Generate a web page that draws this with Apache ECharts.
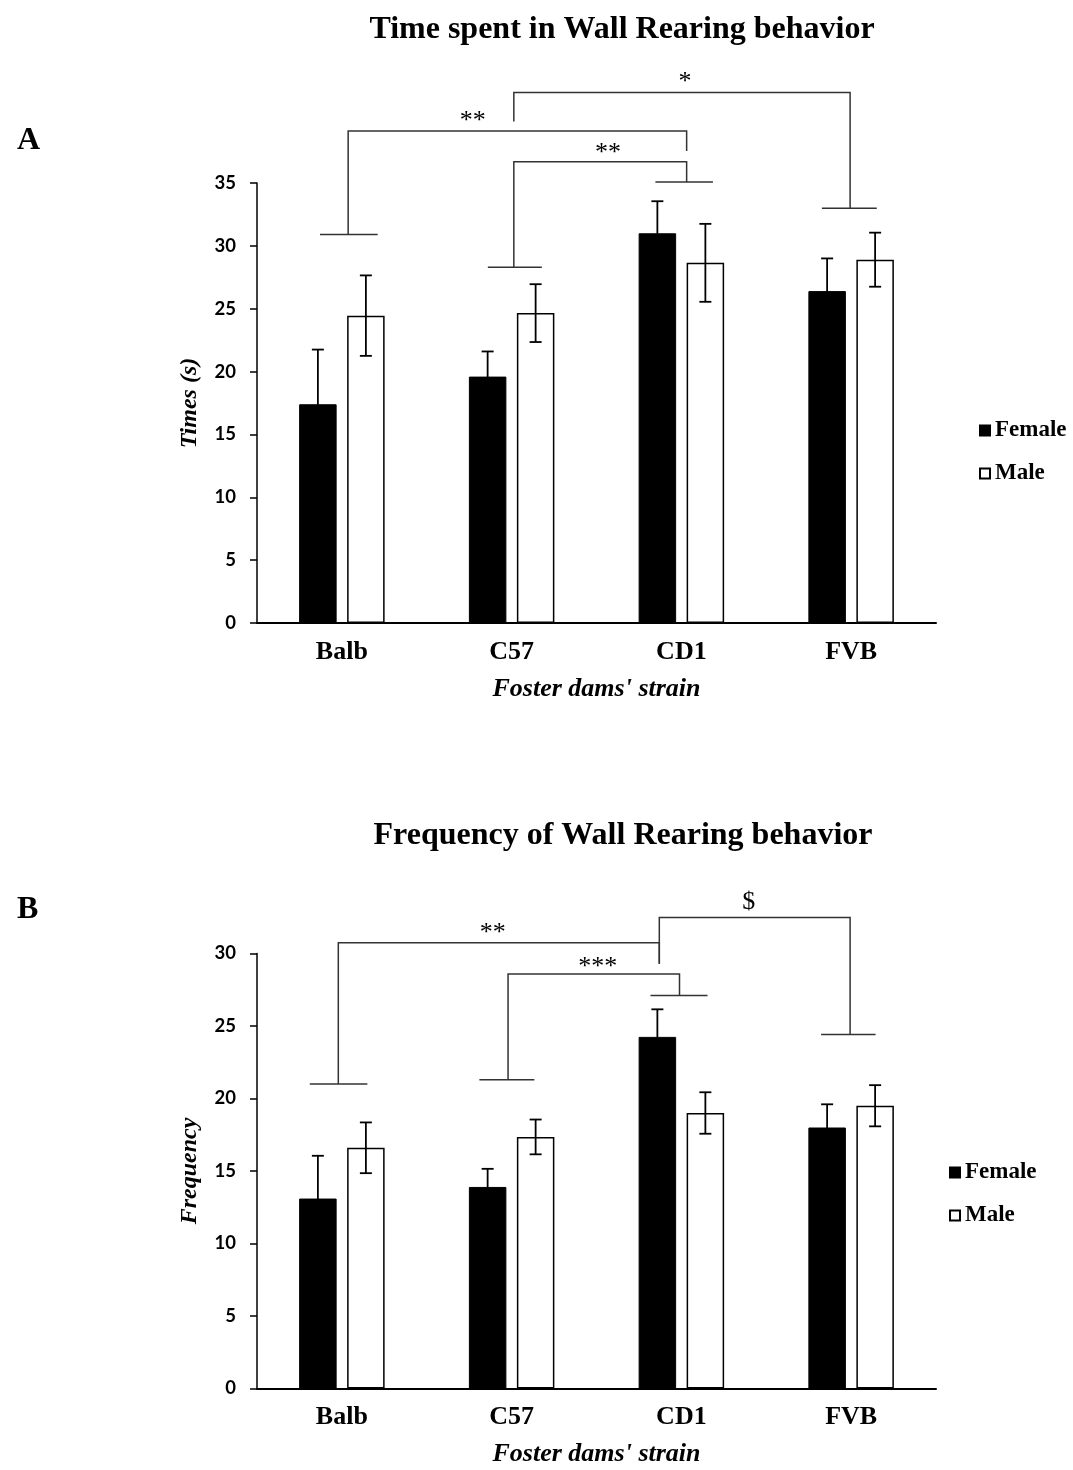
<!DOCTYPE html>
<html>
<head>
<meta charset="utf-8">
<script src="https://cdn.jsdelivr.net/npm/echarts@6/dist/echarts.min.js"></script>
<style>
html,body{margin:0;padding:0;background:#fff;}
#chart{width:1073px;height:1470px;}
</style>
</head>
<body>
<div id="chart"></div>
<script>
// ---------- data ----------
const categories = ['Balb', 'C57', 'CD1', 'FVB'];

// Panel A: time spent (s)
const timeFemale    = [17.4, 19.6, 31.0, 26.4];
const timeFemaleErr = [4.35, 2.0, 2.55, 2.6];
const timeMale      = [24.45, 24.65, 28.65, 28.9];
const timeMaleErr   = [3.2, 2.3, 3.1, 2.15];
const timeTicks     = [0, 5, 10, 15, 20, 25, 30, 35];

// Panel B: frequency
const freqFemale    = [13.1, 13.9, 24.25, 18.0];
const freqFemaleErr = [2.95, 1.25, 1.9, 1.6];
const freqMale      = [16.6, 17.35, 19.0, 19.5];
const freqMaleErr   = [1.75, 1.2, 1.43, 1.42];
const freqTicks     = [0, 5, 10, 15, 20, 25, 30];

// significance brackets: points as [category position, value]
const timeBrackets = [
  {pts: [[-0.129, 30.9], [0.211, 30.9]]},
  {pts: [[0.860, 28.3], [1.178, 28.3]]},
  {pts: [[1.847, 35.07], [2.186, 35.07]]},
  {pts: [[2.828, 33.0], [3.151, 33.0]]},
  {pts: [[0.037, 30.9], [0.037, 39.13], [2.031, 39.13], [2.031, 37.54]], label: '**', at: [0.771, 39.9]},
  {pts: [[1.013, 28.3], [1.013, 36.7], [2.031, 36.7], [2.031, 35.07]], label: '**', at: [1.568, 37.35]},
  {pts: [[1.013, 39.9], [1.013, 42.2], [2.994, 42.2], [2.994, 33.0]], label: '*', at: [2.021, 43.0]}
];
const freqBrackets = [
  {pts: [[-0.189, 21.0], [0.150, 21.0]]},
  {pts: [[0.810, 21.29], [1.134, 21.29]]},
  {pts: [[1.818, 27.1], [2.154, 27.1]]},
  {pts: [[2.823, 24.41], [3.144, 24.41]]},
  {pts: [[-0.021, 21.0], [-0.021, 30.74], [1.870, 30.74], [1.870, 29.29]], label: '**', at: [0.889, 31.43]},
  {pts: [[0.979, 21.29], [0.979, 28.58], [1.989, 28.58], [1.989, 27.1]], label: '***', at: [1.507, 29.08]},
  {pts: [[1.870, 29.29], [1.870, 32.48], [2.994, 32.48], [2.994, 24.41]], label: '$', at: [2.397, 33.54]}
];

// ---------- styling ----------
const SERIF = '"Liberation Serif", "Times New Roman", serif';
const SANS = 'Lato, "Open Sans", sans-serif';
const BAR_W = 37.5;
const BAR_GAP_PX = 10.5;
const OFF = (BAR_W + BAR_GAP_PX) / 2;

function errRender(offset) {
  return function (params, api) {
    const c = api.value(0), v = api.value(1), e = api.value(2);
    const x = api.coord([c, 0])[0] + offset;
    const yt = api.coord([c, v + e])[1];
    const yb = api.coord([c, v - e])[1];
    const hw = 6;
    const st = {stroke: '#000', lineWidth: 1.8};
    return {type: 'group', children: [
      {type: 'line', shape: {x1: x, y1: yt, x2: x, y2: yb}, style: st},
      {type: 'line', shape: {x1: x - hw, y1: yt, x2: x + hw, y2: yt}, style: st},
      {type: 'line', shape: {x1: x - hw, y1: yb, x2: x + hw, y2: yb}, style: st}
    ]};
  };
}

function bracketRender(list) {
  return function (params, api) {
    const b = list[api.value(2)];
    const bw = api.size([1, 0])[0];
    const x0 = api.coord([0, 0])[0];
    const toPx = p => [x0 + p[0] * bw, api.coord([0, p[1]])[1]];
    const children = [{
      type: 'polyline',
      shape: {points: b.pts.map(toPx)},
      style: {stroke: '#333', lineWidth: 1.5, fill: null}
    }];
    if (b.label) {
      const p = toPx(b.at);
      children.push({type: 'text', x: p[0], y: p[1], style: {
        text: b.label, align: 'center', verticalAlign: 'middle',
        fontFamily: SERIF, fontSize: 26, fill: '#000'
      }});
    }
    return {type: 'group', children: children};
  };
}

function errData(vals, errs) { return vals.map((v, i) => [i, v, errs[i]]); }

function panel(idx, female, fErr, male, mErr, brackets) {
  return [
    {name: 'Female', type: 'bar', xAxisIndex: idx, yAxisIndex: idx, data: female,
     barWidth: BAR_W, barGap: (BAR_GAP_PX / BAR_W * 100) + '%',
     itemStyle: {color: '#000', borderColor: '#000', borderWidth: 1}, z: 2},
    {name: 'Male', type: 'bar', xAxisIndex: idx, yAxisIndex: idx, data: male,
     barWidth: BAR_W,
     itemStyle: {color: '#fff', borderColor: '#000', borderWidth: 1.5}, z: 2},
    {type: 'custom', xAxisIndex: idx, yAxisIndex: idx, data: errData(female, fErr),
     renderItem: errRender(-OFF), z: 5, silent: true},
    {type: 'custom', xAxisIndex: idx, yAxisIndex: idx, data: errData(male, mErr),
     renderItem: errRender(OFF), z: 5, silent: true},
    {type: 'custom', xAxisIndex: idx, yAxisIndex: idx, clip: false,
     data: brackets.map((b, i) => [0, 0, i]),
     renderItem: bracketRender(brackets), z: 6, silent: true}
  ];
}

function xAxis(idx) {
  return {
    type: 'category', gridIndex: idx, data: categories,
    axisLine: {lineStyle: {color: '#000', width: 2}},
    axisTick: {show: false},
    axisLabel: {color: '#000', fontFamily: SERIF, fontWeight: 'bold', fontSize: 26, margin: 16},
    name: "Foster dams' strain", nameLocation: 'middle', nameGap: 53,
    nameTextStyle: {color: '#000', fontFamily: SERIF, fontWeight: 'bold', fontStyle: 'italic', fontSize: 26}
  };
}

function yAxis(idx, ticks, name) {
  return {
    type: 'value', gridIndex: idx, min: ticks[0], max: ticks[ticks.length - 1],
    interval: ticks[1] - ticks[0],
    splitLine: {show: false},
    axisLine: {show: true, lineStyle: {color: '#000', width: 1.5}},
    axisTick: {show: true, length: 7, lineStyle: {color: '#000', width: 1.5}},
    axisLabel: {color: '#000', fontFamily: SANS, fontWeight: 'bold', fontSize: 18.5, margin: 21},
    name: name, nameLocation: 'middle', nameGap: 55, nameRotate: 90,
    nameTextStyle: {color: '#000', fontFamily: SERIF, fontWeight: 'bold', fontStyle: 'italic', fontSize: 24}
  };
}

const legendCommon = {
  orient: 'vertical', itemWidth: 10, itemHeight: 10, itemGap: 20,
  icon: 'rect',
  textStyle: {color: '#000', fontFamily: SERIF, fontWeight: 'bold', fontSize: 23},
  data: ['Female', 'Male']
};

const titleStyle = {color: '#000', fontFamily: SERIF, fontWeight: 'bold', fontSize: 32};

const option = {
  backgroundColor: '#fff',
  animation: false,
  title: [
    {text: 'Time spent in Wall Rearing behavior', left: 617, top: 9, textAlign: 'center', textStyle: titleStyle},
    {text: 'A', left: 12, top: 120, textStyle: titleStyle},
    {text: 'Frequency of Wall Rearing behavior', left: 618, top: 815, textAlign: 'center', textStyle: titleStyle},
    {text: 'B', left: 12, top: 889, textStyle: titleStyle}
  ],
  legend: [
    Object.assign({left: 974, top: 414}, legendCommon),
    Object.assign({left: 944, top: 1156}, legendCommon)
  ],
  grid: [
    {left: 257, top: 183, width: 679, height: 440},
    {left: 257, top: 953.5, width: 679, height: 435}
  ],
  xAxis: [xAxis(0), xAxis(1)],
  yAxis: [yAxis(0, timeTicks, 'Times (s)'), yAxis(1, freqTicks, 'Frequency')],
  series: [].concat(
    panel(0, timeFemale, timeFemaleErr, timeMale, timeMaleErr, timeBrackets),
    panel(1, freqFemale, freqFemaleErr, freqMale, freqMaleErr, freqBrackets)
  )
};

const chart = echarts.init(document.getElementById('chart'), null, {renderer: 'canvas'});
chart.setOption(option);
</script>
</body>
</html>
